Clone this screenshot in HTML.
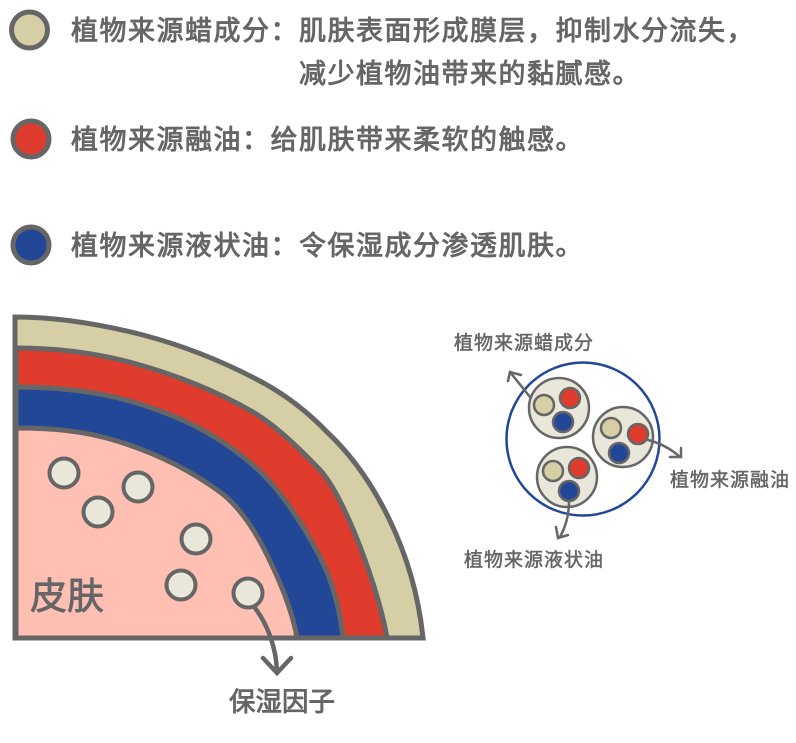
<!DOCTYPE html>
<html lang="zh"><head><meta charset="utf-8"><style>
html,body{margin:0;padding:0;background:#fff}
svg{display:block}
text{font-family:"WenQuanYi Zen Hei","Noto Sans CJK SC",sans-serif;fill:#666;stroke-linejoin:round}
.l{font-size:27px;letter-spacing:1.5px;stroke:#666;stroke-width:.9px}
.s{font-size:19px;letter-spacing:1px;stroke:#666;stroke-width:.5px}
</style></head><body>
<svg width="796" height="743" viewBox="0 0 796 743" xmlns="http://www.w3.org/2000/svg">
<g stroke="#666" stroke-width="5">
<circle cx="29.5" cy="30" r="18" fill="#d6cfa5"/>
<circle cx="31" cy="139" r="18" fill="#df3c2e"/>
<circle cx="31" cy="245" r="18" fill="#224797"/>
</g>
<text class="l" x="71" y="40">植物来源蜡成分&#xFF1A;</text>
<text class="l" x="299" y="40">肌肤表面形成膜层&#xFF0C;抑制水分流失&#xFF0C;</text>
<text class="l" x="299" y="83">减少植物油带来的黏腻感。</text>
<text class="l" x="71" y="149">植物来源融油&#xFF1A;给肌肤带来柔软的触感。</text>
<text class="l" x="71" y="255">植物来源液状油&#xFF1A;令保湿成分渗透肌肤。</text>
<g stroke="#666" stroke-width="5" stroke-linejoin="miter">
<path d="M15 317C58 317 100 324 143 335C181 345 220 360 258 380C281 392 304 408 327 432C372 474 414 550 423 638H15Z" fill="#d6cfa5"/>
<path d="M16 348C55 348 94 352.5 133 363C173 374 213 389 253 412C275 425 298 447 320 470C345 497 379 590 387 638H16Z" fill="#df3c2e"/>
<path d="M16 387C58 387 101 391 143 405C180 417 216 433 253 465C275 484 298 515 320 557C334 584 340 611 343 638H16Z" fill="#224797"/>
<path d="M16 428C50 428 83 430.5 117 441C151 451.5 186 467 220 492C234 502 250 522 263 547C276 572 292 608 297 638H16Z" fill="#ffbfb3"/>
</g>
<g stroke="#666" stroke-width="4" fill="#e9e6da">
<circle cx="64" cy="473" r="14.5"/>
<circle cx="98" cy="512" r="14.5"/>
<circle cx="138" cy="487" r="14.5"/>
<circle cx="196" cy="539" r="14.5"/>
<circle cx="181" cy="585" r="14.5"/>
<circle cx="248" cy="593" r="14.5"/>
</g>
<text x="30" y="609" font-size="37" stroke="#666" stroke-width=".9">皮肤</text>
<g fill="none" stroke="#666" stroke-width="4.5" stroke-linecap="round" stroke-linejoin="miter">
<path d="M255 608C268 625 276 648 277 671"/>
<path d="M263 658L277 673L291 658"/>
</g>
<text x="229" y="711" class="l" style="letter-spacing:0;font-size:26.5px">保湿因子</text>

<circle cx="583" cy="439" r="76.5" fill="#fff" stroke="#224797" stroke-width="2.5"/>
<g stroke="#666" stroke-width="2.5" fill="#e9e6da">
<circle cx="559" cy="408" r="30"/>
<circle cx="623" cy="437" r="30"/>
<circle cx="567" cy="477" r="30"/>
</g>
<g stroke="#666" stroke-width="2.5">
<circle cx="544" cy="405" r="10" fill="#d6cfa5"/>
<circle cx="570" cy="398" r="10" fill="#df3c2e"/>
<circle cx="563" cy="422" r="10" fill="#224797"/>
<circle cx="611" cy="428" r="10" fill="#d6cfa5"/>
<circle cx="638" cy="434" r="10" fill="#df3c2e"/>
<circle cx="619" cy="453" r="10" fill="#224797"/>
<circle cx="553" cy="471" r="10" fill="#d6cfa5"/>
<circle cx="579" cy="468" r="10" fill="#df3c2e"/>
<circle cx="569" cy="491" r="10" fill="#224797"/>
</g>
<g fill="none" stroke="#666" stroke-width="2.5" stroke-linecap="round">
<path d="M530 397L510 372"/>
<path d="M508 381L510 372L521 375"/>
<path d="M648 440C660 443 671 449 680 457"/>
<path d="M670 457L681 457L681 448"/>
<path d="M569 502C569 515 566 526 560 537"/>
<path d="M556 527L558 538L568 535"/>
</g>
<text class="s" x="454" y="349">植物来源蜡成分</text>
<text class="s" x="670" y="486">植物来源融油</text>
<text class="s" x="464" y="566">植物来源液状油</text>
</svg>
</body></html>
